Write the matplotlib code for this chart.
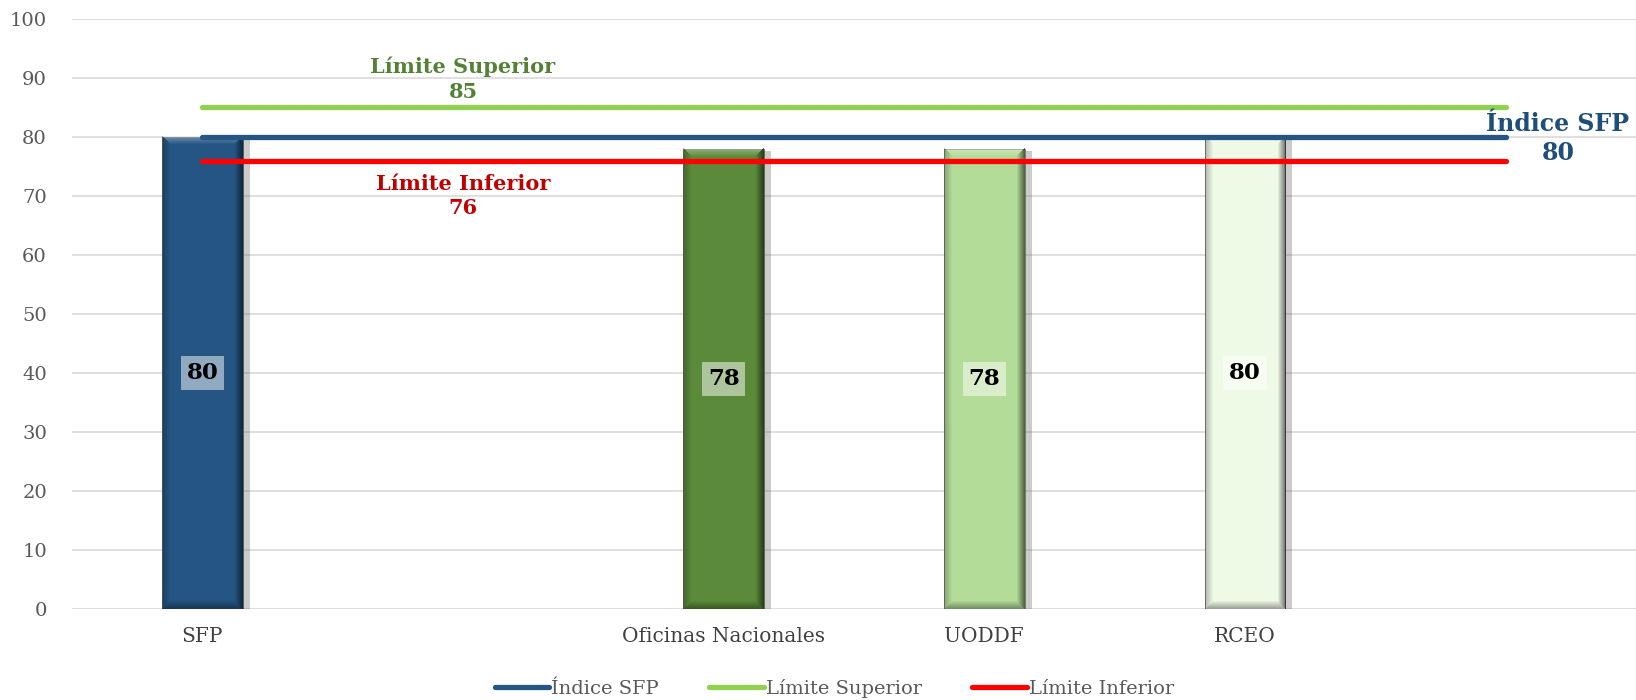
import matplotlib
matplotlib.use("Agg")
import matplotlib.pyplot as plt
import matplotlib.patheffects as pe
import numpy as np

# data
categories = ["SFP", "", "Oficinas Nacionales", "UODDF", "RCEO", ""]
bar_values = [80, None, 78, 78, 80, None]
bar_colors = ["#255583", None, "#5B8A3A", "#B3DC98", "#EEF9E6"]
indice_sfp = [80, 80, 80, 80, 80, 80]
limite_superior = [85, 85, 85, 85, 85, 85]
limite_inferior = [76, 76, 76, 76, 76, 76]

plt.rcParams['font.family'] = ['DejaVu Serif']


def bevel_overlay(h_px, w_px, bevel=8):
    # rgba overlay that gives the bar a bevelled look
    yy, xx = np.mgrid[0:h_px, 0:w_px]
    d = np.stack([xx, w_px - 1 - xx, yy, h_px - 1 - yy])  # left, right, top, bottom
    side = d.argmin(axis=0)
    dist = d.min(axis=0)
    fade = np.clip(1 - dist / bevel, 0, 1)
    rgba = np.zeros((h_px, w_px, 4))
    strength = np.array([0.25, 0.55, 0.35, 0.35])
    rgba[..., 3] = fade * strength[side]
    rgba[side == 2, :3] = 1.0
    return rgba


fig = plt.figure(figsize=(16.36, 7.0), dpi=100)
ax = fig.add_axes([0.044, 0.13, 0.956, 0.843])

x = np.arange(len(categories))

for i, v in enumerate(bar_values):
    if v is None:
        continue
    col = bar_colors[i]
    b = ax.bar(x[i], v, width=0.31, color=col, edgecolor="#3a3a3a", linewidth=0.4, zorder=2)
    p = b[0]
    p.set_path_effects([pe.SimplePatchShadow(offset=(5, -2), shadow_rgbFace="#555555", alpha=0.3),
                        pe.Normal()])
    ov = bevel_overlay(int(v * 5.9), 82)
    ax.imshow(ov, extent=(p.get_x(), p.get_x() + p.get_width(), 0, p.get_height()),
              aspect="auto", interpolation="bilinear", zorder=2.5)
    ax.text(x[i], v / 2, str(v), ha="center", va="center", fontsize=16.5, fontweight="bold",
            color="black", zorder=5,
            bbox=dict(boxstyle="square,pad=0.25", facecolor="white", edgecolor="none", alpha=0.5))

ax.plot(x, indice_sfp, color="#255583", linewidth=3.8, solid_capstyle="round", zorder=3, label="Índice SFP")
ax.plot(x, limite_superior, color="#92D050", linewidth=3.8, solid_capstyle="round", zorder=3, label="Límite Superior")
ax.plot(x, limite_inferior, color="#FF0000", linewidth=3.8, solid_capstyle="round", zorder=3, label="Límite Inferior")

# line annotations
ax.text(x[1], limite_superior[1] + 1.0, "Límite Superior\n" + str(limite_superior[1]), ha="center", va="bottom",
        fontsize=15, fontweight="bold", color="#538135", linespacing=1.3)
ax.text(x[1], limite_inferior[1] - 2.2, "Límite Inferior\n" + str(limite_inferior[1]), ha="center", va="top",
        fontsize=15, fontweight="bold", color="#C00000", linespacing=1.3)
ax.text(x[5] + 0.2, indice_sfp[5] - 0.3, "Índice SFP\n" + str(indice_sfp[5]), ha="center", va="center",
        fontsize=17, fontweight="bold", color="#1F4E79", linespacing=1.25)

ax.set_xlim(-0.5, len(categories) - 0.5)
ax.set_ylim(0, 100)
ax.set_yticks(np.arange(0, 101, 10))
ax.set_xticks(x)
ax.set_xticklabels(categories, fontsize=14.5, color="#404040")
ax.tick_params(axis="y", labelsize=14, labelcolor="#595959", length=0, pad=18)
ax.tick_params(axis="x", length=0, pad=13)
ax.grid(axis="y", color="#D9D9D9", linewidth=1.2, zorder=0)
ax.set_axisbelow(True)
for s in ax.spines.values():
    s.set_visible(False)

fig.legend(loc="lower center", bbox_to_anchor=(0.51, -0.022), ncol=3, frameon=False,
           fontsize=14, labelcolor="#595959", handlelength=2.8, handletextpad=0.1, columnspacing=2.6)

fig.savefig("out.png", dpi=100)
